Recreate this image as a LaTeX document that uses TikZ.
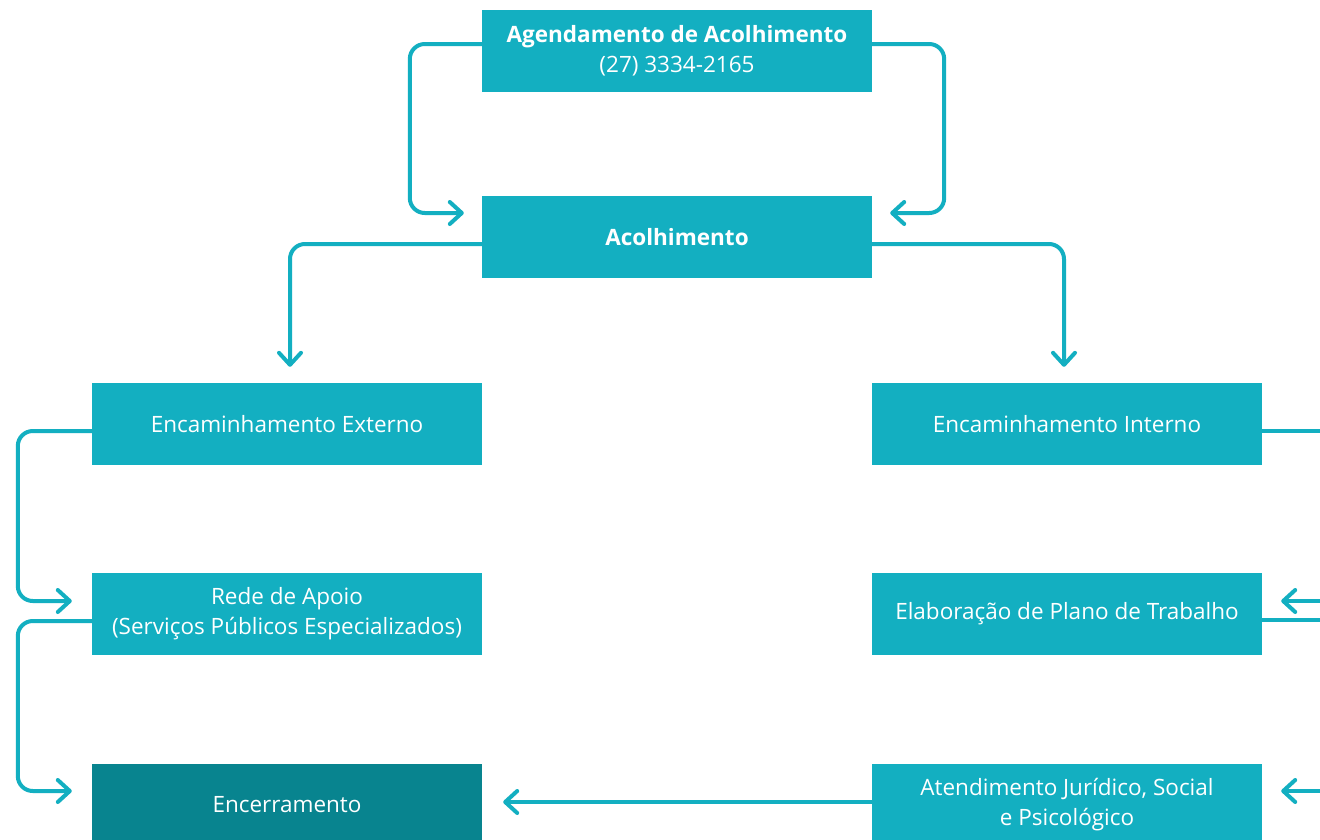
\documentclass[tikz,border=0pt]{standalone}
\usepackage{fontspec}
\setmainfont{Open Sans}
\usetikzlibrary{arrows.meta}
\definecolor{tealA}{HTML}{13AFC1}
\definecolor{tealB}{HTML}{08848F}
\begin{document}
\begin{tikzpicture}[x=1pt,y=-1pt,
 box/.style={fill=tealA, text=white, minimum width=390pt, minimum height=82pt, inner sep=0pt, align=center, font=\fontsize{22.5}{30}\selectfont},
 conn/.style={draw=tealA, line width=4pt, rounded corners=15pt, -{Straight Barb[length=12pt,width=22pt,round]}},
 plain/.style={draw=tealA, line width=4pt, rounded corners=15pt}]
\clip (0,0) rectangle (1320,839);
\fill[white] (0,0) rectangle (1320,839);
\node[box] (agend) at (677,51) {\textbf{Agendamento de Acolhimento}\\(27) 3334-2165};
\node[box] (acol) at (677,237) {\textbf{Acolhimento}};
\node[box] (ext) at (287,424) {Encaminhamento Externo};
\node[box] (int) at (1067,424) {Encaminhamento Interno};
\node[box] (rede) at (287,614) {Rede de Apoio\\(Serviços Públicos Especializados)};
\node[box] (plano) at (1067,614) {Elaboração de Plano de Trabalho};
\node[box, fill=tealB] (enc) at (287,805) {Encerramento};
\node[box] (atend) at (1067,805) {Atendimento Jurídico, Social\\e Psicológico};
\coordinate (r1) at (1330,431);
\coordinate (r2) at (1330,620);
\coordinate (r3) at (1330,601);
\coordinate (r4) at (1330,791);
\draw[conn] ([yshift=7pt]agend.west) -- ++(-72,0) |- ([xshift=-18pt,yshift=24pt]acol.west);
\draw[conn] ([yshift=7pt]agend.east) -- ++(72,0) |- ([xshift=18pt,yshift=24pt]acol.east);
\draw[conn] ([yshift=-7pt]acol.west) -| ([xshift=3pt,yshift=16pt]ext.north);
\draw[conn] ([yshift=-7pt]acol.east) -| ([xshift=-3pt,yshift=16pt]int.north);
\draw[conn] ([yshift=-7pt]ext.west) -- ++(-74,0) |- ([xshift=-20pt,yshift=13pt]rede.west);
\draw[conn] ([yshift=-7pt]rede.west) -- ++(-74,0) |- ([xshift=-20pt,yshift=14pt]enc.west);
\draw[conn] ([yshift=3pt]atend.west) -- ([xshift=21pt,yshift=3pt]enc.east);
\draw[plain] ([yshift=-7pt]int.east) -- (r1);
\draw[plain] ([yshift=-6pt]plano.east) -- (r2);
\draw[conn] (r3) -- ([xshift=19pt,yshift=13pt]plano.east);
\draw[conn] (r4) -- ([xshift=19pt,yshift=14pt]atend.east);
\end{tikzpicture}
\end{document}
